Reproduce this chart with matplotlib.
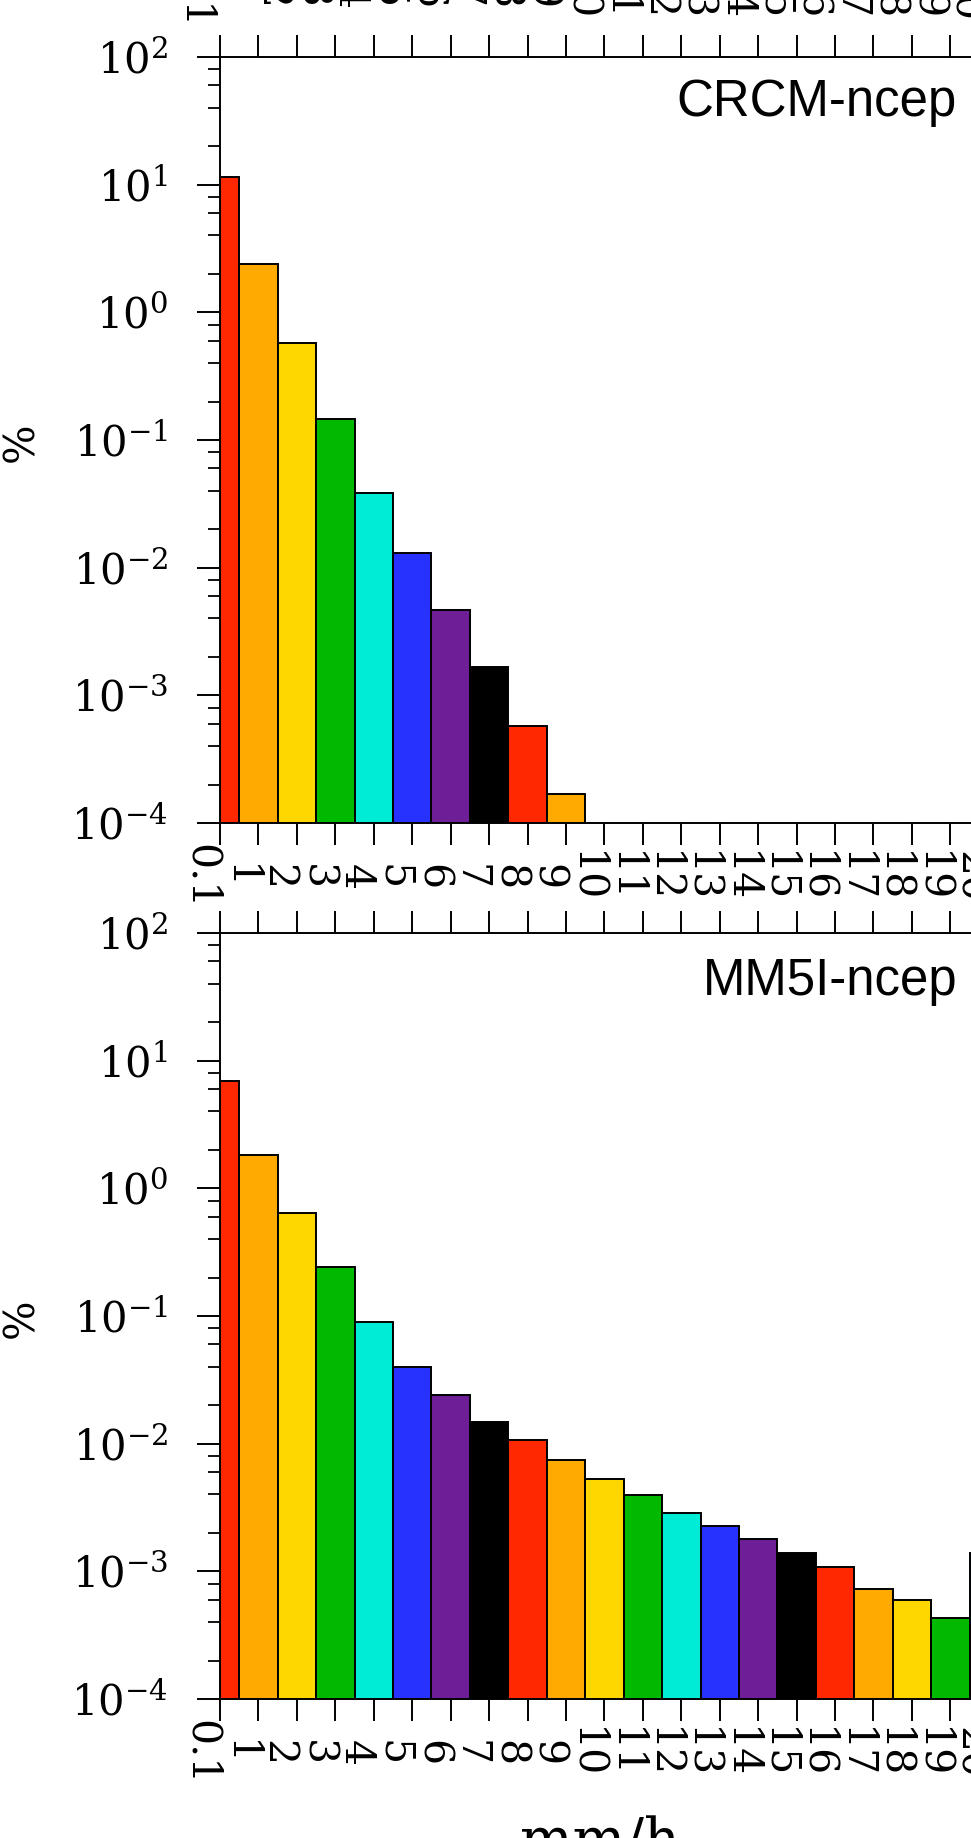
import matplotlib
matplotlib.use('Agg')
import matplotlib.pyplot as plt
from matplotlib import ticker, transforms

plt.rcParams['font.family'] = ['DejaVu Serif']
plt.rcParams['mathtext.fontset'] = 'dejavuserif'

# bin edges (mm/h) labelled under the bars, bars are one per bin
BIN_LABELS = ['0.1'] + [str(i) for i in range(1, 26)]
BAR_COLORS = ['#ff2800', '#ffaa00', '#ffd700', '#00b900',
              '#00ecd6', '#2832ff', '#6e1e96', '#000000']

CRCM_NAME = 'CRCM-ncep'
CRCM_PCT = [11.4, 2.4, 0.58, 0.145, 0.0384, 0.0131, 0.00466, 0.00166,
            0.000578, 0.00017]

MM5I_NAME = 'MM5I-ncep'
MM5I_PCT = [6.9, 1.82, 0.64, 0.24, 0.0893, 0.0401, 0.0242, 0.0149,
            0.0106, 0.0074, 0.00528, 0.00394, 0.00287, 0.00228, 0.0018,
            0.0014, 0.00109, 0.00073, 0.0006, 0.00043, 0.0014]

W, H = 971, 1838
DPI = 100
PX_UNIT = 38.44          # pixels per bin
X_LEFT = 220             # left spine in px
N_BINS = 25
PANEL_H = 766

fig = plt.figure(figsize=(W / DPI, H / DPI), dpi=DPI)
fig.patch.set_facecolor('white')


def add_panel(top_px):
    ax = fig.add_axes([X_LEFT / W, (H - top_px - PANEL_H) / H,
                       N_BINS * PX_UNIT / W, PANEL_H / H])
    ax.set_xlim(0, N_BINS)
    return ax


def bin_labels(ax, dx=0):
    tr = transforms.offset_copy(ax.get_xaxis_transform(), fig=fig,
                                x=dx, y=-54, units='dots')
    for i, lab in enumerate(BIN_LABELS):
        ax.text(i - 0.5, 0, lab, transform=tr, rotation=-90,
                ha='center', va='center', fontsize=29.5, clip_on=False)


def draw_panel(ax, vals, name, name_base_px):
    cols = [BAR_COLORS[i % len(BAR_COLORS)] for i in range(len(vals))]
    ax.bar(range(len(vals)), vals, width=1.0, color=cols,
           edgecolor='black', linewidth=1.4, log=True, zorder=2)
    ax.set_yscale('log')
    ax.set_ylim(1e-4, 1e2)
    ax.yaxis.set_major_locator(ticker.LogLocator(base=10, numticks=10))
    ax.yaxis.set_minor_locator(ticker.LogLocator(base=10, subs=(2, 4, 6, 8), numticks=10))
    ax.yaxis.set_major_formatter(ticker.LogFormatterMathtext())
    ax.yaxis.set_minor_formatter(ticker.NullFormatter())
    ax.set_xticks(range(0, N_BINS + 1))
    ax.tick_params(axis='x', which='major', direction='out', length=16,
                   width=1.4, top=True, bottom=True, labelbottom=False)
    ax.tick_params(axis='y', which='major', direction='out', length=16.5,
                   width=1.4, pad=21, labelsize=30, right=False)
    ax.tick_params(axis='y', which='minor', direction='out', length=8.6,
                   width=1.3, right=False)
    for s in ax.spines.values():
        s.set_linewidth(1.4)
    bin_labels(ax)
    fig.text(957 / W, 1 - name_base_px / H, name, ha='right', va='baseline',
             fontsize=36.7, family=['Liberation Sans', 'DejaVu Sans'])


# top strip: labels of the panel above, mostly cut off
ax0 = add_panel(-58 - PANEL_H)
ax0.axis('off')
bin_labels(ax0, dx=-6)

ax1 = add_panel(57)
draw_panel(ax1, CRCM_PCT, CRCM_NAME, 116)

ax2 = add_panel(933)
draw_panel(ax2, MM5I_PCT, MM5I_NAME, 995)

for top in (57, 933):
    fig.text(21 / W, 1 - (top + PANEL_H / 2 + 2) / H, '%', rotation=90,
             ha='center', va='center', fontsize=30)

fig.text(600 / W, 1 - 1815 / H, 'mm/h', ha='center', va='top', fontsize=40)

fig.savefig('out.png', dpi=DPI, facecolor=fig.get_facecolor())
